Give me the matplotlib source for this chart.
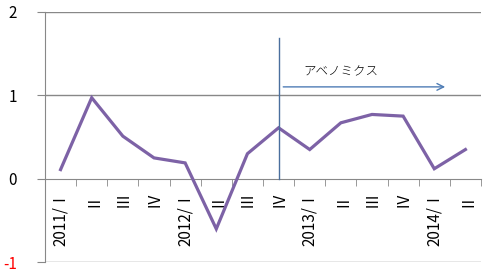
import matplotlib
matplotlib.use("Agg")
import matplotlib.pyplot as plt
from matplotlib.ticker import FixedLocator

plt.rcParams['font.family'] = ['Noto Sans CJK JP', 'DejaVu Sans']

categories = ["2011/Ⅰ", "Ⅱ", "Ⅲ", "Ⅳ", "2012/Ⅰ", "Ⅱ", "Ⅲ", "Ⅳ",
              "2013/Ⅰ", "Ⅱ", "Ⅲ", "Ⅳ", "2014/Ⅰ", "Ⅱ"]
values = [0.11, 0.97, 0.51, 0.25, 0.19, -0.60, 0.30, 0.61,
          0.35, 0.67, 0.77, 0.75, 0.12, 0.35]
y_ticks = [-1, 0, 1, 2]
annotation_label = "アベノミクス"
marker_index = 7          # 2012/IV : start of Abenomics
arrow_end = 12.35
arrow_y = 1.10
vline_top = 1.69

fig = plt.figure(figsize=(4.95, 2.76), dpi=100)
ax = fig.add_axes([0.0909, 0.0496, 0.8808, 0.908])

x = list(range(len(values)))
ax.plot(x, values, color='#7D62A6', linewidth=2.3, solid_joinstyle='miter', zorder=3)

ax.set_xlim(-0.5, len(values) - 0.5)
ax.set_ylim(-1, 2)

# grid
for yv in [1, 2, -1]:
    ax.axhline(yv, color='#888888', linewidth=1.0, zorder=1)

for s in ['top', 'right']:
    ax.spines[s].set_visible(False)
ax.spines['left'].set_color('#888888')
ax.spines['bottom'].set_color('#888888')
ax.spines['bottom'].set_position(('data', 0))
ax.spines['bottom'].set_zorder(2)

ax.set_yticks(y_ticks)
ax.set_yticklabels([str(v) for v in y_ticks], fontsize=11)
for lbl, v in zip(ax.get_yticklabels(), y_ticks):
    lbl.set_color('#FF0000' if v < 0 else 'black')
ax.tick_params(axis='y', length=6, color='#888888', pad=14)

ax.set_xticks(x)
ax.set_xticklabels(categories, rotation=90, fontsize=11)
ax.xaxis.set_minor_locator(FixedLocator([i - 0.5 for i in range(len(values) + 1)]))
ax.tick_params(axis='x', which='major', length=0, pad=9)
ax.tick_params(axis='x', which='minor', length=5, color='#888888')
for lbl in ax.get_xticklabels():
    lbl.set_verticalalignment('top')

# Abenomics marker
ax.plot([marker_index, marker_index], [0, vline_top], color='#4A6F9E', linewidth=1.0, zorder=4)
ax.annotate('', xy=(arrow_end, arrow_y), xytext=(marker_index + 0.15, arrow_y),
            arrowprops=dict(arrowstyle='->', color='#4F7DB5', linewidth=1.0,
                            mutation_scale=12, shrinkA=0, shrinkB=0))
ax.text(marker_index + 0.8, 1.28, annotation_label, fontsize=9, va='center', ha='left',
        fontweight='light')

fig.savefig('out.png', dpi=100)
